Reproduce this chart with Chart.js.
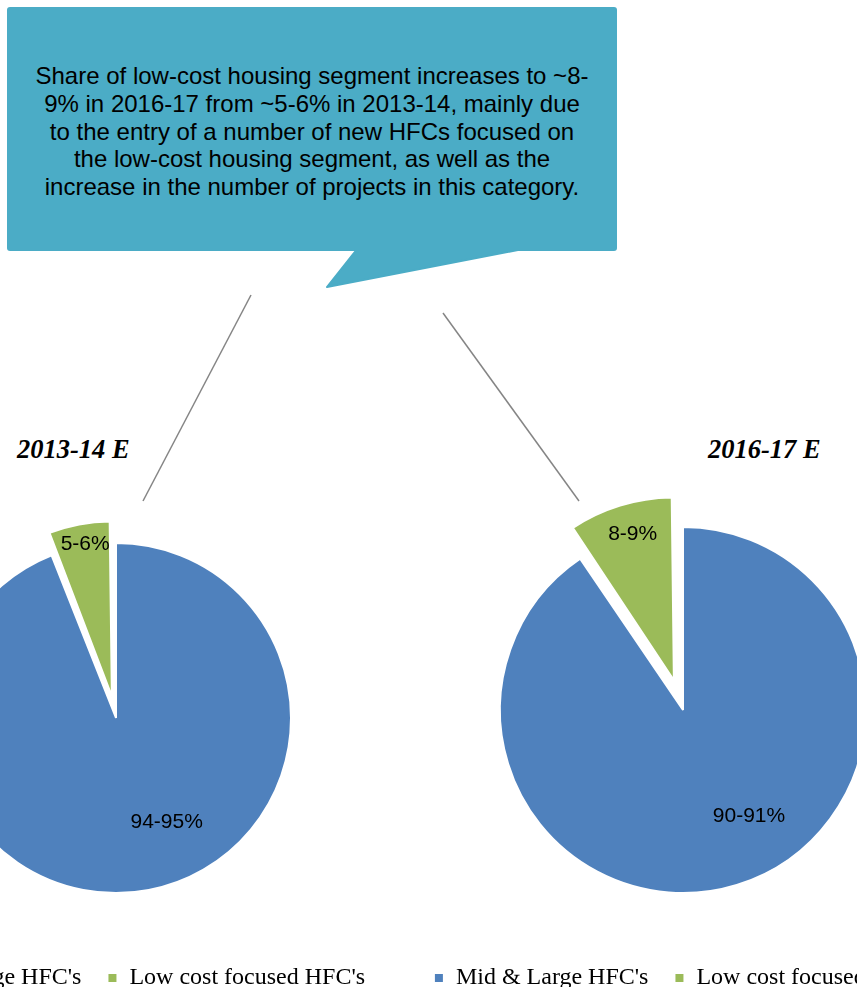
<!DOCTYPE html>
<html>
<head>
<meta charset="utf-8">
<script src="https://cdn.jsdelivr.net/npm/chart.js@4.4.1/dist/chart.umd.min.js"></script>
<style>
html,body{margin:0;padding:0;background:#fff;}
body{position:relative;width:857px;height:987px;overflow:hidden;}
#callout{position:absolute;left:7px;top:7px;width:610px;height:244px;background:#4BACC6;border-radius:3px;
display:flex;align-items:center;justify-content:center;text-align:center;box-sizing:border-box;padding-top:5px;
font-family:"Liberation Sans",Arial,sans-serif;font-size:24px;line-height:27.7px;color:#000;}
.ttl{position:absolute;top:434px;line-height:30px;font-family:"Liberation Serif","Times New Roman",serif;
font-weight:bold;font-style:italic;font-size:26.5px;color:#000;}
svg{position:absolute;left:0;top:0;}
canvas{position:absolute;}
</style>
</head>
<body>

<svg width="857" height="987">
<polygon points="358,248 327,287 528,248" fill="#4BACC6" stroke="#4BACC6" stroke-width="2" stroke-linejoin="round"/>
<line x1="251" y1="295" x2="143" y2="501" stroke="#858585" stroke-width="1.5"/>
<line x1="443" y1="313" x2="579" y2="501" stroke="#858585" stroke-width="1.5"/>
</svg>

<div id="callout"><div>Share of low-cost housing segment increases to ~8-<br>9% in 2016-17 from ~5-6% in 2013-14, mainly due<br>to the entry of a number of new HFCs focused on<br>the low-cost housing segment, as well as the<br>increase in the number of projects in this category.</div></div>

<div class="ttl" style="left:17px">2013-14 E</div>
<div class="ttl" style="left:708px">2016-17 E</div>

<canvas id="pieA" width="600" height="504" style="left:-184px;top:496px"></canvas>
<canvas id="pieB" width="600" height="520" style="left:383px;top:480px"></canvas>

<script>
const categories = ["Mid & Large HFC's", "Low cost focused HFC's"];
const share1314 = [94, 6];
const share1617 = [90.5, 9.5];
const text1314 = ["94-95%", "5-6%"];
const text1617 = ["90-91%", "8-9%"];
const colors = ["#4F81BD", "#9BBB59"];

/* keep exploded slice at the same radius as the rest of the pie */
const keepRadius = {
  id: "keepRadius",
  afterDatasetUpdate(chart, args) {
    args.meta.data.forEach(arc => {
      const off = (arc.options.offset || 0) / 4;
      if (!off) return;
      const circ = arc.endAngle - arc.startAngle;
      arc.outerRadius -= off * (1 - Math.sin(Math.min(Math.PI, circ)));
    });
  }
};

/* slice text, placed along each arc */
const sliceLabels = {
  id: "sliceLabels",
  afterDatasetsDraw(chart, args, opts) {
    const ctx = chart.ctx;
    const meta = chart.getDatasetMeta(0);
    const R = meta.data[0].outerRadius;
    meta.data.forEach((arc, i) => {
      const p = arc.getProps(["x", "y", "startAngle", "endAngle"], true);
      const off = (arc.options.offset || 0) / 4;
      const mid = (p.startAngle + p.endAngle) / 2;
      const a = p.startAngle + (p.endAngle - p.startAngle) * opts.along[i];
      const r = R * opts.dist[i];
      const x = p.x + Math.cos(mid) * off + Math.cos(a) * r;
      const y = p.y + Math.sin(mid) * off + Math.sin(a) * r;
      ctx.save();
      ctx.font = '21px "Liberation Sans", Arial, sans-serif';
      ctx.fillStyle = "#000";
      ctx.textAlign = "center";
      ctx.textBaseline = "middle";
      ctx.fillText(opts.text[i], x, y);
      ctx.restore();
    });
  }
};

function makePie(id, values, texts, radius, explode, dist){
  return new Chart(document.getElementById(id), {
    type: "pie",
    data: {
      labels: categories,
      datasets: [{
        data: values,
        backgroundColor: colors,
        borderColor: "#fff",
        borderWidth: 2,
        radius: radius,
        offset: [0, explode]
      }]
    },
    options: {
      responsive: false,
      devicePixelRatio: 1,
      animation: false,
      events: [],
      layout: {padding: 0},
      plugins: {
        tooltip: {enabled: false},
        legend: {
          position: "bottom",
          labels: {
            boxWidth: 10,
            boxHeight: 10,
            padding: 26,
            color: "#000",
            font: {family: '"Liberation Serif", "Times New Roman", serif', size: 24}
          }
        },
        sliceLabels: {text: texts, along: [0.455, 0.54], dist: dist}
      }
    },
    plugins: [keepRadius, sliceLabels]
  });
}

makePie("pieA", share1314, text1314, 175, 88, [0.66, 0.885]);
makePie("pieB", share1617, text1617, 183, 124, [0.685, 0.83]);
</script>
</body>
</html>
